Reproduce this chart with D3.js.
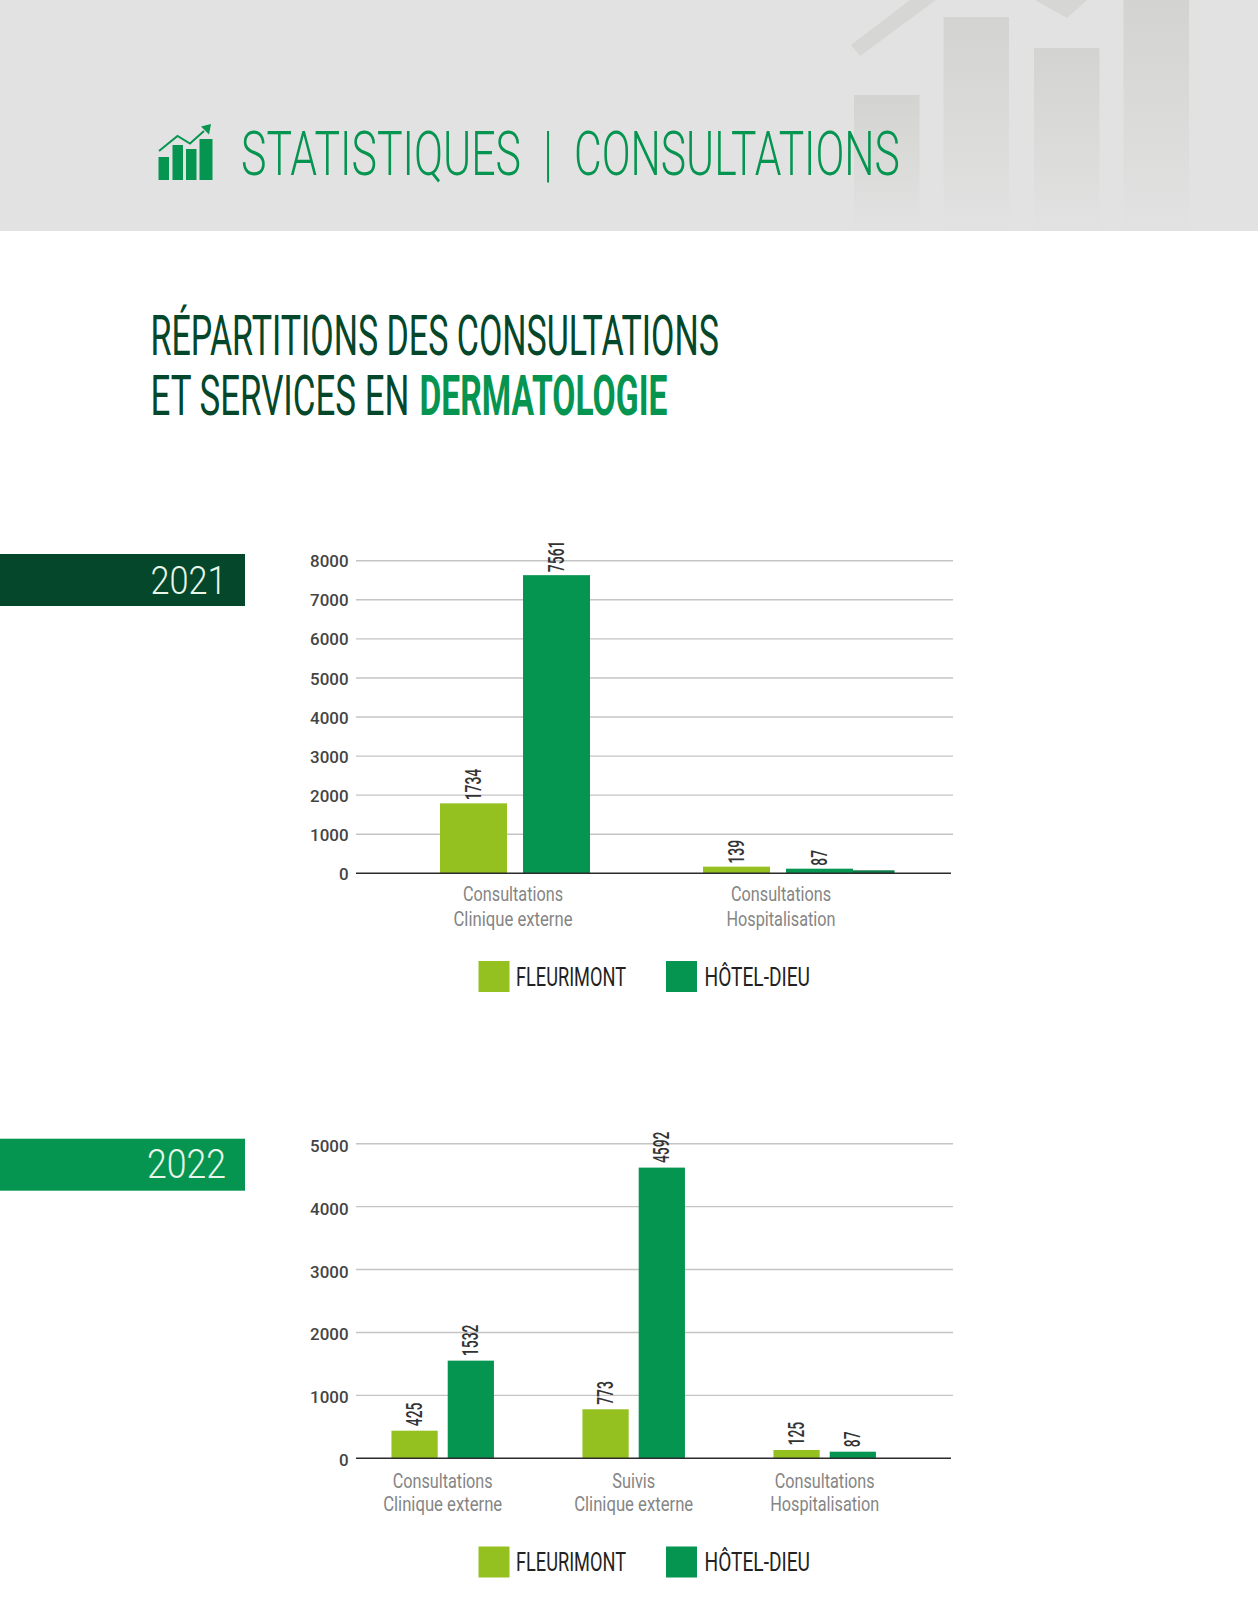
<!DOCTYPE html>
<html lang="fr">
<head>
<meta charset="utf-8">
<title>Statistiques | Consultations</title>
<script src="https://cdn.jsdelivr.net/npm/d3@7/dist/d3.min.js"></script>
<style>
html,body{margin:0;padding:0;background:#fff;}
svg{display:block;}
text{font-family:"Liberation Sans Narrow",Roboto,sans-serif;}
</style>
</head>
<body>
<svg id="page" width="1258" height="1608"></svg>
<script>
// ---- Data ----
const seriesNames = ["FLEURIMONT", "HÔTEL-DIEU"];

const categories2021 = [["Consultations", "Clinique externe"], ["Consultations", "Hospitalisation"]];
const fleurimont2021 = [1790, 170];       // bar heights as drawn
const hotelDieu2021 = [7630, 118];
const fleurimontLabels2021 = ["1734", "139"]; // numbers as printed
const hotelDieuLabels2021 = ["7561", "87"];
const extraSliver2021 = [null, 77];       // unlabelled dark sliver next to the second group
const ticks2021 = [0, 1000, 2000, 3000, 4000, 5000, 6000, 7000, 8000];

const categories2022 = [["Consultations", "Clinique externe"], ["Suivis", "Clinique externe"], ["Consultations", "Hospitalisation"]];
const fleurimont2022 = [439, 779, 132];
const hotelDieu2022 = [1552, 4620, 105];
const fleurimontLabels2022 = ["425", "773", "125"];
const hotelDieuLabels2022 = ["1532", "4592", "87"];
const ticks2022 = [0, 1000, 2000, 3000, 4000, 5000];

const LIME = "#94c11f", GREEN = "#069550", DARK = "#04472a";
const seriesColors = [LIME, GREEN];
const catLabelWidths = { "Consultations": 100, "Clinique externe": 119, "Hospitalisation": 109, "Suivis": 43 };

const svg = d3.select("#page");
const defs = svg.append("defs");

// text squeezed to a measured width, to imitate the condensed typeface
function fit(sel, len) {
  return sel.attr("textLength", len).attr("lengthAdjust", "spacingAndGlyphs");
}
// same idea, through a transform, for large display text placed side by side
function squeeze(sel, x, y, len) {
  const k = len / sel.node().getComputedTextLength();
  return sel.attr("transform", `translate(${x},${y}) scale(${k},1)`);
}

// ---- Header ----
const fade = defs.append("linearGradient").attr("id", "fade").attr("x1", 0).attr("x2", 0).attr("y1", 0).attr("y2", 1);
fade.append("stop").attr("offset", 0).attr("stop-color", "#d3d3d1");
fade.append("stop").attr("offset", 1).attr("stop-color", "#e2e2e2");

svg.append("rect").attr("width", 1258).attr("height", 231).attr("fill", "#e2e2e2");
const ghost = svg.append("g");
[[854, 95], [943.5, 17], [1034, 48], [1123.5, 0]].forEach(([x, top]) => {
  ghost.append("rect").attr("x", x).attr("y", top).attr("width", 65.5).attr("height", 231 - top).attr("fill", "url(#fade)");
});
ghost.append("path").attr("d", "M851,45 L860,56 L936,0 L910,0 Z").attr("fill", "#d6d6d4");
ghost.append("path").attr("d", "M1035,0 L1067,18 L1087,0 Z").attr("fill", "#d6d6d4");

// chart icon
const icon = svg.append("g").attr("fill", GREEN);
[[158.5, 157, 10.5], [172.5, 145, 10.5], [186, 149, 10.5], [199.5, 139, 13]].forEach(([x, top, w]) => {
  icon.append("rect").attr("x", x).attr("y", top).attr("width", w).attr("height", 180 - top);
});
icon.append("path").attr("d", "M159,151 L177.5,136 L190,143.5 L204,131").attr("fill", "none").attr("stroke", GREEN).attr("stroke-width", 2);
icon.append("path").attr("d", "M211,124 L201,126.5 L209,134.5 Z");

[["STATISTIQUES", 241, 280], ["|", 543.5, 9], ["CONSULTATIONS", 574, 326]].forEach(([t, x, w]) => {
  squeeze(svg.append("text").attr("font-size", 62)
    .style("font-family", "Roboto,sans-serif").style("font-weight", 300)
    .attr("fill", GREEN).text(t), x, 175, w);
});

// ---- Headline ----
squeeze(svg.append("text").attr("font-size", 56).attr("fill", DARK)
  .style("font-family", "Roboto,sans-serif").text("RÉPARTITIONS DES CONSULTATIONS"), 150.5, 355, 568.5);
squeeze(svg.append("text").attr("font-size", 56).attr("fill", DARK)
  .style("font-family", "Roboto,sans-serif").text("ET SERVICES EN"), 150.5, 415, 259);
squeeze(svg.append("text").attr("font-size", 56).attr("fill", GREEN)
  .style("font-family", "Roboto,sans-serif").style("font-weight", 700).text("DERMATOLOGIE"), 419.5, 415, 248);

// ---- Charts ----
function drawChart(cfg) {
  const g = svg.append("g");

  // year ribbon
  g.append("rect").attr("x", 0).attr("y", cfg.ribbon.y).attr("width", 245).attr("height", 52).attr("fill", cfg.ribbon.color);
  fit(g.append("text").attr("x", cfg.ribbon.textLeft).attr("y", cfg.ribbon.y + cfg.ribbon.baseline)
    .attr("font-size", cfg.ribbon.size).attr("fill", "#e8f6ea")
    .style("font-family", "Roboto,sans-serif").style("font-weight", 300).text(cfg.ribbon.year), cfg.ribbon.textWidth);

  const y = d3.scaleLinear().domain([0, d3.max(cfg.ticks)]).range([cfg.y0, cfg.yTop]);
  const xBars = d3.scaleBand().domain(cfg.categories.map((_, i) => i)).range(cfg.barRange);
  const xLabels = d3.scaleBand().domain(cfg.categories.map((_, i) => i)).range(cfg.labelRange);
  const xSeries = d3.scaleBand().domain([0, 1]).range([-cfg.groupWidth / 2, cfg.groupWidth / 2]).paddingInner(cfg.barGap);

  // grid
  g.append("g").selectAll("line").data(cfg.ticks.filter(t => t > 0)).join("line")
    .attr("x1", 356).attr("x2", 953).attr("y1", d => y(d)).attr("y2", d => y(d))
    .attr("stroke", "#c4c4c4").attr("stroke-width", 1.4);

  // y axis labels
  const axis = g.append("g").attr("transform", "translate(356,0)")
    .call(d3.axisLeft(y).tickValues(cfg.ticks).tickSize(0).tickPadding(7.5).tickFormat(d3.format("d")));
  axis.select(".domain").remove();
  axis.selectAll("text").attr("font-size", 16).attr("fill", "#444")
    .attr("dy", cfg.tickDy).style("font-family", "Roboto,sans-serif").style("font-weight", 500)
    .each(function (d) { fit(d3.select(this), String(d).length * 9.6); });

  // bars
  const series = [cfg.fleurimont, cfg.hotelDieu];
  const labels = [cfg.fleurimontLabels, cfg.hotelDieuLabels];
  const bw = xSeries.bandwidth();
  series.forEach((vals, s) => {
    g.append("g").selectAll("rect").data(vals).join("rect")
      .attr("x", (d, i) => xBars(i) + xBars.bandwidth() / 2 + xSeries(s))
      .attr("y", d => y(d)).attr("width", bw).attr("height", d => y(0) - y(d))
      .attr("fill", seriesColors[s]);
    g.append("g").selectAll("text").data(vals).join("text")
      .attr("transform", (d, i) => `translate(${xBars(i) + xBars.bandwidth() / 2 + xSeries(s) + bw / 2 + 7.5},${y(d) - cfg.labelGap}) rotate(-90)`)
      .attr("font-size", 22).attr("font-weight", 500).attr("fill", "#333")
      .style("font-family", "Roboto,sans-serif")
      .text((d, i) => labels[s][i])
      .each(function (d, i) { fit(d3.select(this), labels[s][i].length * 7.9); });
  });
  if (cfg.sliver) {
    g.append("g").selectAll("rect").data(cfg.sliver).join("rect")
      .filter(d => d !== null)
      .attr("x", (d, i) => xBars(1) + xBars.bandwidth() / 2 + xSeries(1) + bw)
      .attr("y", d => y(d)).attr("width", bw * 0.62).attr("height", d => y(0) - y(d))
      .attr("fill", "#0a7a4a");
  }

  // baseline
  g.append("line").attr("x1", 356).attr("x2", 951).attr("y1", y(0)).attr("y2", y(0))
    .attr("stroke", "#2b2b2b").attr("stroke-width", 1.6);

  // category labels
  const cats = g.append("g").selectAll("g").data(cfg.categories).join("g")
    .attr("transform", (d, i) => `translate(${xLabels(i) + xLabels.bandwidth() / 2},0)`);
  [0, 1].forEach(line => {
    cats.append("text").attr("text-anchor", "middle").attr("y", y(0) + cfg.catOffsets[line])
      .attr("font-size", 20).attr("fill", "#858585")
      .text(d => d[line])
      .each(function (d) { fit(d3.select(this), catLabelWidths[d[line]]); });
  });

  // legend
  const legY = cfg.legendY;
  [[478.5, 516, 110], [666, 704.5, 105.5]].forEach(([sx, tx, tw], s) => {
    g.append("rect").attr("x", sx).attr("y", legY).attr("width", 31).attr("height", 31).attr("fill", seriesColors[s]);
    fit(g.append("text").attr("x", tx).attr("y", legY + cfg.legendBaseline).attr("font-size", 26).attr("fill", "#222").text(seriesNames[s]), tw);
  });
}

drawChart({
  ribbon: { y: 554, color: DARK, year: "2021", textLeft: 150.5, textWidth: 76, size: 38, baseline: 40 },
  categories: categories2021, fleurimont: fleurimont2021, hotelDieu: hotelDieu2021,
  fleurimontLabels: fleurimontLabels2021, hotelDieuLabels: hotelDieuLabels2021, sliver: extraSliver2021,
  ticks: ticks2021, y0: 873.3, yTop: 560.7,
  barRange: [383.5, 909.5], labelRange: [379, 915], groupWidth: 150, barGap: 0.193,
  catOffsets: [28, 53], legendY: 961, legendBaseline: 24.5, labelGap: 3, tickDy: "0.38em"
});
drawChart({
  ribbon: { y: 1138.7, color: GREEN, year: "2022", textLeft: 147, textWidth: 79, size: 41, baseline: 39.5 },
  categories: categories2022, fleurimont: fleurimont2022, hotelDieu: hotelDieu2022,
  fleurimontLabels: fleurimontLabels2022, hotelDieuLabels: hotelDieuLabels2022,
  ticks: ticks2022, y0: 1458.3, yTop: 1143.7,
  barRange: [347.2, 920.2], labelRange: [347.2, 920.2], groupWidth: 102.5, barGap: 0.178,
  catOffsets: [29.7, 53], legendY: 1546.5, legendBaseline: 24, labelGap: 4.5, tickDy: "0.47em"
});
</script>
</body>
</html>
